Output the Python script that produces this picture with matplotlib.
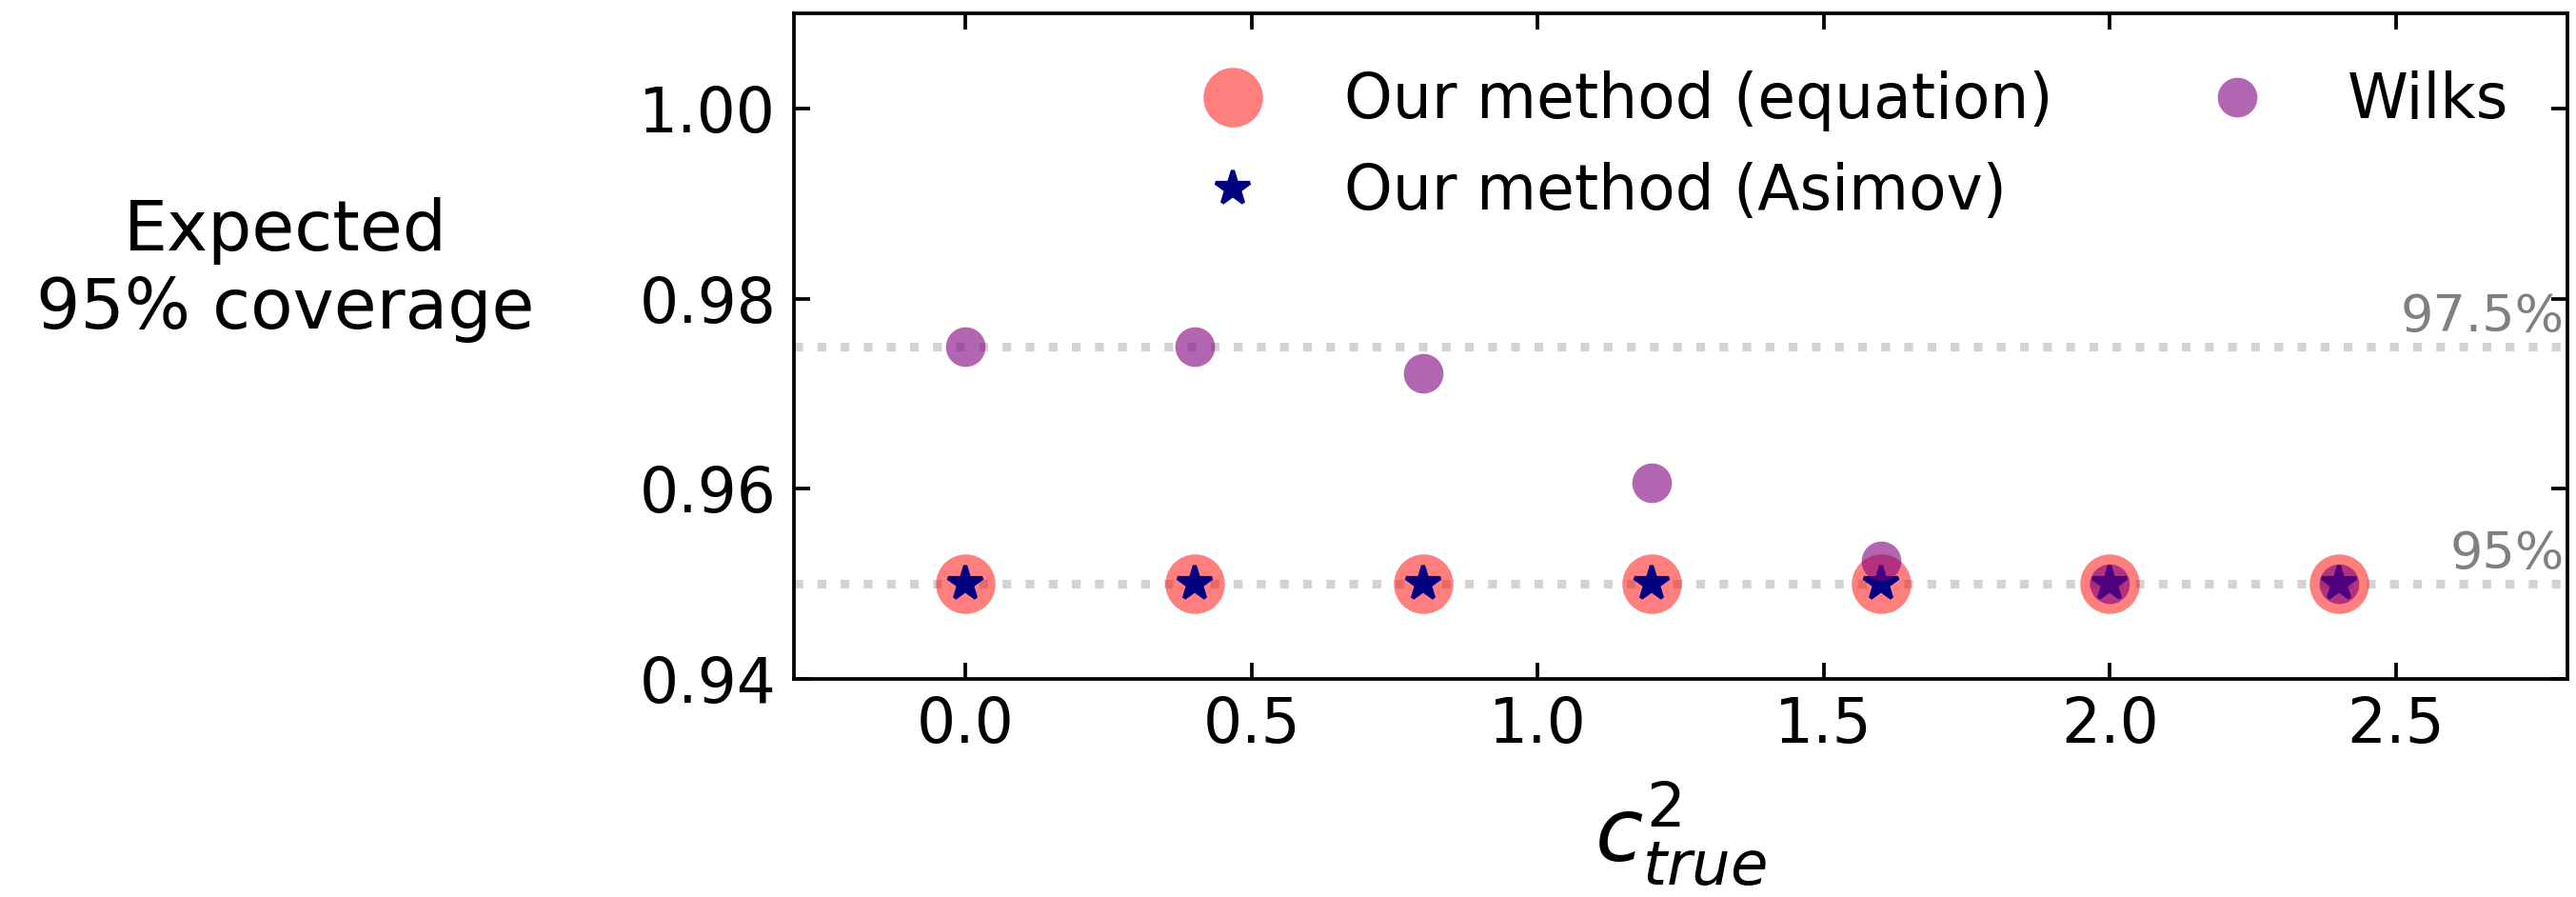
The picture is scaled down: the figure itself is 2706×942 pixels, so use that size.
import matplotlib
matplotlib.use("Agg")
import matplotlib.pyplot as plt

# Data
c2_true = [0.0, 0.4, 0.8, 1.2, 1.6, 2.0, 2.4]
cov_equation = [0.95, 0.95, 0.95, 0.95, 0.95, 0.95, 0.95]
cov_asimov = [0.95, 0.95, 0.95, 0.95, 0.95, 0.95, 0.95]
cov_wilks = [0.975, 0.975, 0.9721, 0.9606, 0.9524, 0.950, 0.950]
ref_levels = [0.975, 0.95]
ref_labels = ["97.5%", "95%"]
xticks = [0.0, 0.5, 1.0, 1.5, 2.0, 2.5]
yticks = [0.94, 0.96, 0.98, 1.00]

plt.rcParams['font.family'] = ['DejaVu Sans']

fig = plt.figure(figsize=(2706 / 300, 942 / 300), dpi=300)
ax = fig.add_axes([0.3082, 0.2431, 0.9967 - 0.3082, 0.9851 - 0.2431])

for lev, lab in zip(ref_levels, ref_labels):
    ax.axhline(lev, color='lightgray', linestyle=':', linewidth=2.2, zorder=1)
    ax.text(2.795, lev + 0.0005, lab, color='gray', fontsize=13,
            ha='right', va='bottom', zorder=2)

ax.plot(c2_true, cov_equation, linestyle='none', marker='o', markersize=15,
        color='red', alpha=0.5, markeredgewidth=0, label='Our method (equation)', zorder=3)
ax.plot(c2_true, cov_asimov, linestyle='none', marker='*', markersize=9,
        color='navy', markeredgewidth=1, label='Our method (Asimov)', zorder=4)
ax.plot(c2_true, cov_wilks, linestyle='none', marker='o', markersize=10,
        color='purple', alpha=0.6, markeredgewidth=0, label='Wilks', zorder=5)

ax.set_xlim(-0.3, 2.8)
ax.set_ylim(0.94, 1.01)
ax.set_xticks(xticks)
ax.set_yticks(yticks)
ax.set_xticklabels([f"{t:.1f}" for t in xticks])
ax.set_yticklabels([f"{t:.2f}" for t in yticks])
ax.tick_params(direction='in', top=True, right=True, labelsize=15.5,
               length=4, width=0.9)
ax.tick_params(axis='x', pad=4)
ax.tick_params(axis='y', pad=4.5)
for sp in ax.spines.values():
    sp.set_linewidth(0.9)

ax.set_xlabel(r'$c^2_{true}$', fontsize=22, labelpad=6)
ax.set_ylabel('Expected\n95% coverage', fontsize=17.5, rotation=0,
              ha='center', va='center')
ax.yaxis.set_label_coords(-0.2866, 0.615)

ax.legend(loc='upper left', bbox_to_anchor=(0.213, 0.914), ncol=2,
          frameon=False, fontsize=15.5, borderpad=0, borderaxespad=0)

fig.savefig('out.png', dpi=300)
